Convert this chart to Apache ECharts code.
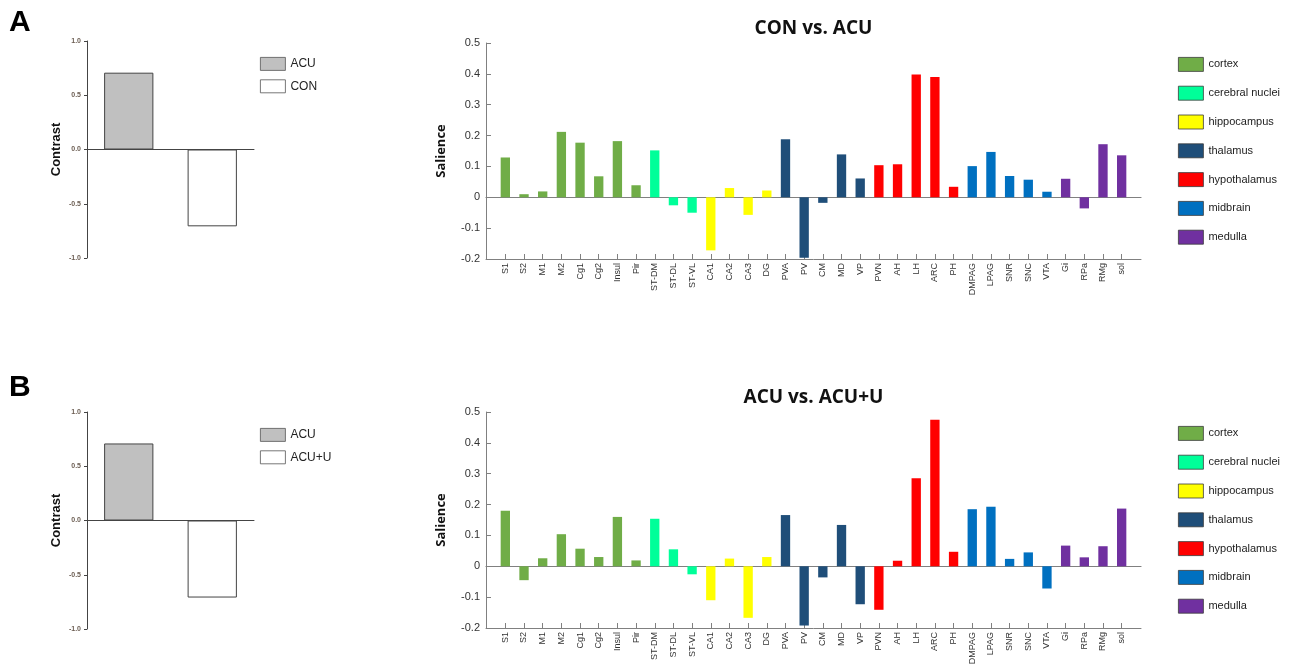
<!DOCTYPE html>
<html>
<head>
<meta charset="utf-8">
<title>CON vs. ACU / ACU vs. ACU+U</title>
<script src="https://cdn.jsdelivr.net/npm/echarts@6/dist/echarts.min.js"></script>
<style>
  html, body { margin: 0; padding: 0; background: #fff; }
  #chart { width: 1290px; height: 672px; }
</style>
</head>
<body>
<div id="chart"></div>
<script>
// brain regions, in plotting order
const categories = ['S1', 'S2', 'M1', 'M2', 'Cg1', 'Cg2', 'Insul', 'Pir',
    'ST-DM', 'ST-DL', 'ST-VL',
    'CA1', 'CA2', 'CA3', 'DG',
    'PVA', 'PV', 'CM', 'MD', 'VP',
    'PVN', 'AH', 'LH', 'ARC', 'PH',
    'DMPAG', 'LPAG', 'SNR', 'SNC', 'VTA',
    'Gi', 'RPa', 'RMg', 'sol'];

// which group each region belongs to (index into groups)
const categoryGroup = [0, 0, 0, 0, 0, 0, 0, 0,
    1, 1, 1,
    2, 2, 2, 2,
    3, 3, 3, 3, 3,
    4, 4, 4, 4, 4,
    5, 5, 5, 5, 5,
    6, 6, 6, 6];

const groups = ['cortex', 'cerebral nuclei', 'hippocampus', 'thalamus', 'hypothalamus', 'midbrain', 'medulla'];
const groupColors = ['#70ad47', '#00ff99', '#ffff00', '#1f4e79', '#ff0000', '#0070c0', '#7030a0'];

// salience values
const salienceConAcu = [0.129, 0.010, 0.019, 0.212, 0.177, 0.068, 0.182, 0.039,
    0.152, -0.026, -0.050,
    -0.172, 0.030, -0.057, 0.022,
    0.188, -0.196, -0.018, 0.139, 0.061,
    0.104, 0.107, 0.398, 0.390, 0.034,
    0.101, 0.147, 0.069, 0.057, 0.018,
    0.060, -0.036, 0.172, 0.136];

const salienceAcuAcuU = [0.180, -0.045, 0.026, 0.104, 0.057, 0.030, 0.160, 0.019,
    0.154, 0.055, -0.026,
    -0.110, 0.025, -0.167, 0.030,
    0.166, -0.192, -0.036, 0.134, -0.123,
    -0.141, 0.018, 0.285, 0.475, 0.047,
    0.185, 0.193, 0.024, 0.045, -0.072,
    0.067, 0.029, 0.065, 0.187];

// design contrasts
const contrastLabelsA = ['ACU', 'CON'];
const contrastA = [0.708, -0.708];
const contrastLabelsB = ['ACU', 'ACU+U'];
const contrastB = [0.71, -0.71];
const contrastColors = ['#c0c0c0', '#ffffff'];

const salienceTicks = { min: -0.2, max: 0.5, interval: 0.1 };
const contrastTicks = { min: -1, max: 1, interval: 0.5 };

const SANS = 'Liberation Sans, Arial, sans-serif';

const option = {
    animation: false,
    textStyle: { fontFamily: SANS },
    title: [],
    grid: [],
    xAxis: [],
    yAxis: [],
    legend: [],
    series: []
};

function addPanelLetter(letter, top) {
    option.title.push({
        text: letter, left: 9, top: top, padding: 0,
        textStyle: { fontSize: 30, fontWeight: 'bold', color: '#000', fontFamily: SANS }
    });
}

// left small bar chart with the two groups
function addContrastPanel(top, labels, values) {
    const g = option.grid.length;
    option.grid.push({ left: 87, top: top, width: 167, height: 217 });
    const xi = option.xAxis.length;
    option.xAxis.push({
        gridIndex: g, type: 'category', data: labels,
        axisLine: { lineStyle: { color: '#444', width: 1 } },
        axisTick: { show: false },
        axisLabel: { show: false }
    });
    const yi = option.yAxis.length;
    option.yAxis.push({
        gridIndex: g, type: 'value',
        min: contrastTicks.min, max: contrastTicks.max, interval: contrastTicks.interval,
        name: 'Contrast', nameLocation: 'middle', nameGap: 24,
        nameTextStyle: { fontSize: 13, fontWeight: 'bold', color: '#111', fontFamily: SANS },
        axisLine: { show: true, lineStyle: { color: '#444' } },
        axisTick: { show: true, length: 3, lineStyle: { color: '#444' } },
        axisLabel: { fontSize: 7, fontWeight: 'bold', color: '#6b5d52', margin: 6, formatter: v => v.toFixed(1) },
        splitLine: { show: false }
    });
    labels.forEach((name, i) => {
        option.series.push({
            type: 'bar', name: name, xAxisIndex: xi, yAxisIndex: yi,
            barWidth: '59%', barGap: '-100%',
            data: values.map((v, j) => (j === i ? v : null)),
            itemStyle: { color: contrastColors[i], borderColor: '#444', borderWidth: 1 }
        });
    });
    option.legend.push({
        data: labels, orient: 'vertical', left: 260, top: top + 16, padding: 0,
        icon: 'rect', itemWidth: 25, itemHeight: 13, itemGap: 8.6, selectedMode: false,
        itemStyle: { borderColor: '#555', borderWidth: 0.8 },
        textStyle: { fontSize: 12, color: '#222', fontFamily: SANS }
    });
}

// right salience bar chart
function addSaliencePanel(top, titleText, values) {
    option.title.push({
        text: titleText, left: 813.5, top: top - 24, padding: 0, textAlign: 'center',
        textStyle: { fontSize: 19, fontWeight: 'bold', color: '#111', fontFamily: 'Open Sans' }
    });

    // grid for the bars
    const gb = option.grid.length;
    option.grid.push({ left: 496, top: top, width: 635, height: 216 });
    const xb = option.xAxis.length;
    option.xAxis.push({
        gridIndex: gb, type: 'category', data: categories,
        axisLine: { show: false, onZero: false },
        axisTick: { show: true, inside: true, alignWithLabel: true, length: 5, lineStyle: { color: '#808080' } },
        axisLabel: { rotate: 90, fontSize: 9, color: '#333', margin: 4, interval: 0 }
    });
    const yb = option.yAxis.length;
    option.yAxis.push({
        gridIndex: gb, type: 'value', show: false,
        min: salienceTicks.min, max: salienceTicks.max, interval: salienceTicks.interval,
        splitLine: { show: false }
    });
    groups.forEach((name, gi) => {
        option.series.push({
            type: 'bar', name: name, xAxisIndex: xb, yAxisIndex: yb,
            barWidth: '50%', barGap: '-100%',
            data: values.map((v, j) => (categoryGroup[j] === gi ? v : null)),
            itemStyle: { color: groupColors[gi] }
        });
    });

    // frame grid: axis lines, y ticks and the zero line
    const gf = option.grid.length;
    option.grid.push({ left: 486, top: top, width: 655, height: 216 });
    option.xAxis.push({
        gridIndex: gf, type: 'value', min: 0, max: 1, position: 'bottom',
        axisLine: { show: true, onZero: false, lineStyle: { color: '#808080' } },
        axisTick: { show: false }, axisLabel: { show: false }, splitLine: { show: false }
    });
    option.xAxis.push({
        gridIndex: gf, type: 'value', min: 0, max: 1, position: 'top',
        axisLine: { show: true, onZero: true, lineStyle: { color: '#808080', width: 1.2 } },
        axisTick: { show: false }, axisLabel: { show: false }, splitLine: { show: false }
    });
    option.yAxis.push({
        gridIndex: gf, type: 'value',
        min: salienceTicks.min, max: salienceTicks.max, interval: salienceTicks.interval,
        name: 'Salience', nameLocation: 'middle', nameGap: 38,
        nameTextStyle: { fontSize: 13, fontWeight: 'bold', color: '#111', fontFamily: 'Open Sans' },
        axisLine: { show: true, lineStyle: { color: '#808080' } },
        axisTick: { show: true, inside: true, length: 5, lineStyle: { color: '#808080' } },
        axisLabel: { fontSize: 11, color: '#333', margin: 6, formatter: v => String(Math.round(v * 10) / 10) },
        splitLine: { show: false }
    });

    option.legend.push({
        data: groups, orient: 'vertical', left: 1178, top: top + 14, padding: 0,
        icon: 'rect', itemWidth: 25, itemHeight: 14, itemGap: 14, selectedMode: false,
        itemStyle: { borderColor: '#3a3a3a', borderWidth: 0.8 },
        textStyle: { fontSize: 11, color: '#222', fontFamily: SANS }
    });
}

addPanelLetter('A', 8);
addContrastPanel(41, contrastLabelsA, contrastA);
addSaliencePanel(43, 'CON vs. ACU', salienceConAcu);

addPanelLetter('B', 373);
addContrastPanel(412, contrastLabelsB, contrastB);
addSaliencePanel(412, 'ACU vs. ACU+U', salienceAcuAcuU);

const chart = echarts.init(document.getElementById('chart'));
chart.setOption(option);
</script>
</body>
</html>
